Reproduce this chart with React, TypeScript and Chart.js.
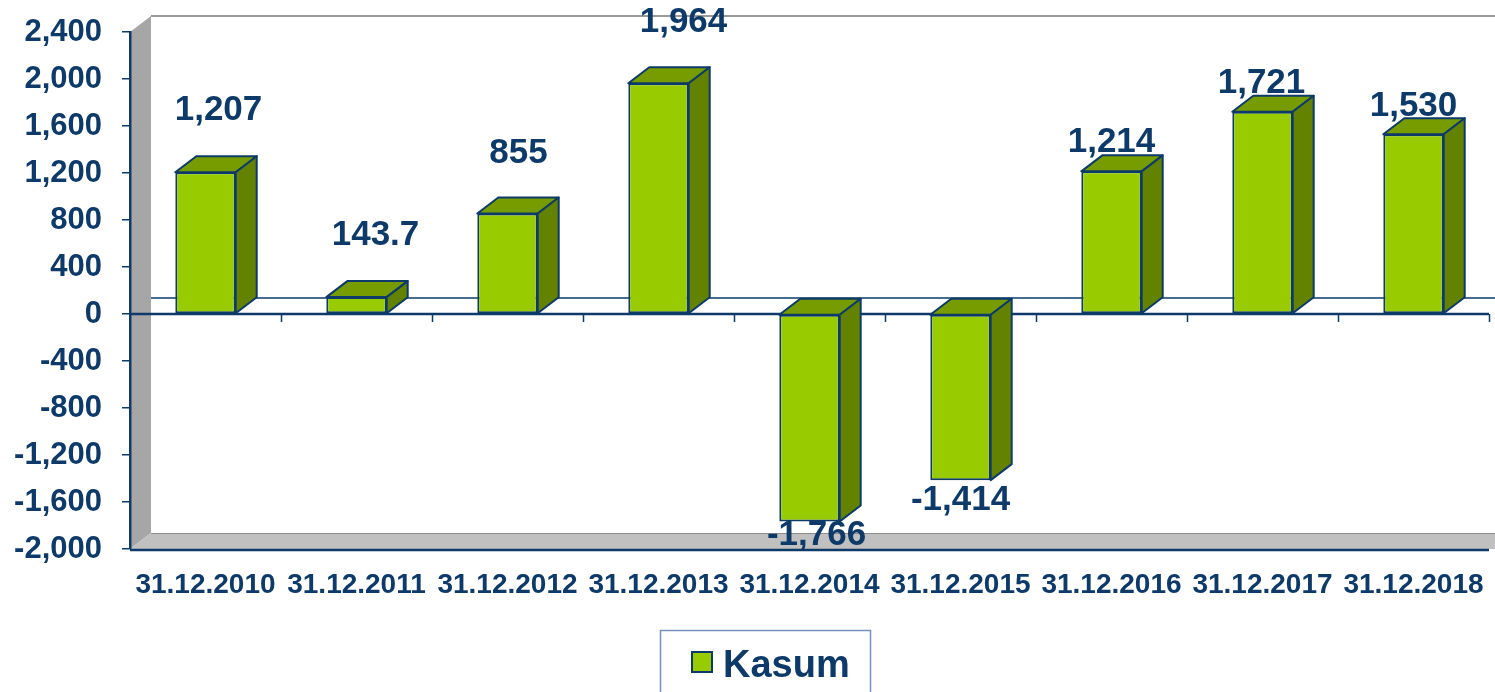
import React, { useEffect, useRef } from 'react';
import { Chart, registerables } from 'chart.js';

Chart.register(...registerables);

// ---- data ----
const categories = [
  '31.12.2010', '31.12.2011', '31.12.2012', '31.12.2013', '31.12.2014',
  '31.12.2015', '31.12.2016', '31.12.2017', '31.12.2018',
];
const kasum = [1207, 143.7, 855, 1964, -1766, -1414, 1214, 1721, 1530];
const valueLabels = ['1,207', '143.7', '855', '1,964', '-1,766', '-1,414', '1,214', '1,721', '1,530'];
const seriesName = 'Kasum';
const yMin = -2000;
const yMax = 2400;
const yStep = 400;

// ---- style ----
const NAVY = '#0D3A68';
const GREEN_FRONT = '#99CC00';
const GREEN_TOP = '#779C00';
const GREEN_SIDE = '#638200';
const FONT = '"Liberation Sans", Arial, sans-serif';
const DX = 21;
const DY = 16;
const labelDx = [13, 19, 11, 25, 7, 0, 0, -1, 0];
const labelDy = [-62, -62, -60, -61, 14, 20, -29, -28, -28];

const threeD = {
  id: 'threeD',
  beforeDraw(chart: any) {
    const { ctx, chartArea } = chart;
    const { left, right, top, bottom } = chartArea;
    ctx.save();
    // back wall
    ctx.fillStyle = '#FFFFFF';
    ctx.fillRect(left + DX, top - DY, right - left + 40, bottom - top);
    // left wall
    ctx.fillStyle = '#A6A6A6';
    ctx.beginPath();
    ctx.moveTo(left, top);
    ctx.lineTo(left + DX, top - DY);
    ctx.lineTo(left + DX, bottom - DY);
    ctx.lineTo(left, bottom);
    ctx.closePath();
    ctx.fill();
    // floor
    ctx.fillStyle = '#C0C0C0';
    ctx.beginPath();
    ctx.moveTo(left, bottom);
    ctx.lineTo(left + DX, bottom - DY);
    ctx.lineTo(right + DX + 40, bottom - DY);
    ctx.lineTo(right + 40, bottom);
    ctx.closePath();
    ctx.fill();
    ctx.strokeStyle = '#8C8C8C';
    ctx.lineWidth = 1;
    ctx.beginPath();
    ctx.moveTo(left + DX, bottom - DY + 0.5);
    ctx.lineTo(right + DX + 40, bottom - DY + 0.5);
    ctx.stroke();
    // back wall top edge
    ctx.strokeStyle = '#9A9A9A';
    ctx.lineWidth = 2;
    ctx.beginPath();
    ctx.moveTo(left + DX, top - DY);
    ctx.lineTo(right + DX + 40, top - DY);
    ctx.stroke();
    ctx.restore();
  },
  beforeDatasetsDraw(chart: any) {
    const { ctx, chartArea, scales } = chart;
    const { left, right, bottom } = chartArea;
    const y0 = scales.y.getPixelForValue(0);
    ctx.save();
    ctx.strokeStyle = NAVY;
    // back zero line
    ctx.lineWidth = 1.5;
    ctx.beginPath();
    ctx.moveTo(left + DX, y0 - DY);
    ctx.lineTo(right + DX + 40, y0 - DY);
    ctx.stroke();
    // front zero line
    ctx.lineWidth = 2.5;
    ctx.beginPath();
    ctx.moveTo(left, y0);
    ctx.lineTo(right, y0);
    ctx.stroke();
    // bottom front edge
    ctx.beginPath();
    ctx.moveTo(left, bottom + 1);
    ctx.lineTo(right, bottom + 1);
    ctx.stroke();
    // category tick marks on zero line
    ctx.lineWidth = 1.5;
    const xs = scales.x;
    for (let i = 0; i < categories.length; i++) {
      const a = xs.getPixelForValue(i);
      const step = i + 1 < categories.length ? xs.getPixelForValue(i + 1) - a : a - xs.getPixelForValue(i - 1);
      const tx = Math.round(a + step / 2) + 0.5;
      ctx.beginPath();
      ctx.moveTo(tx, y0);
      ctx.lineTo(tx, y0 + 8);
      ctx.stroke();
    }
    ctx.restore();
  },
  afterDatasetsDraw(chart: any) {
    const { ctx } = chart;
    const meta = chart.getDatasetMeta(0);
    ctx.save();
    ctx.strokeStyle = NAVY;
    ctx.lineWidth = 2;
    ctx.lineJoin = 'round';
    meta.data.forEach((bar: any) => {
      const { x, y, base, width } = bar.getProps(['x', 'y', 'base', 'width'], true);
      const x1 = x - width / 2;
      const x2 = x + width / 2;
      const yTop = Math.min(y, base);
      const yBot = Math.max(y, base);
      // top face
      ctx.fillStyle = GREEN_TOP;
      ctx.beginPath();
      ctx.moveTo(x1, yTop);
      ctx.lineTo(x1 + DX, yTop - DY);
      ctx.lineTo(x2 + DX, yTop - DY);
      ctx.lineTo(x2, yTop);
      ctx.closePath();
      ctx.fill();
      ctx.stroke();
      // side face
      ctx.fillStyle = GREEN_SIDE;
      ctx.beginPath();
      ctx.moveTo(x2, yTop);
      ctx.lineTo(x2 + DX, yTop - DY);
      ctx.lineTo(x2 + DX, yBot - DY);
      ctx.lineTo(x2, yBot);
      ctx.closePath();
      ctx.fill();
      ctx.stroke();
    });
    // value labels
    ctx.fillStyle = NAVY;
    ctx.font = `bold 35px ${FONT}`;
    ctx.textAlign = 'center';
    ctx.textBaseline = 'middle';
    meta.data.forEach((bar: any, i: number) => {
      const { x, y, base } = bar.getProps(['x', 'y', 'base'], true);
      const ref = kasum[i] >= 0 ? Math.min(y, base) : Math.max(y, base);
      ctx.fillText(valueLabels[i], x + labelDx[i], ref + labelDy[i]);
    });
    ctx.restore();
  },
  afterDraw(chart: any) {
    const { ctx } = chart;
    ctx.save();
    // legend frame
    ctx.strokeStyle = '#7391BA';
    ctx.lineWidth = 1.5;
    ctx.strokeRect(660.5, 630.5, 210, 90);
    // legend box
    ctx.fillStyle = GREEN_FRONT;
    ctx.fillRect(692, 652, 20, 20);
    ctx.strokeStyle = NAVY;
    ctx.lineWidth = 2;
    ctx.strokeRect(692, 652, 20, 20);
    ctx.fillStyle = NAVY;
    ctx.font = `bold 38px ${FONT}`;
    ctx.textAlign = 'left';
    ctx.textBaseline = 'alphabetic';
    ctx.fillText(seriesName, 723, 677);
    ctx.restore();
  },
};

export default function App() {
  const ref = useRef<HTMLCanvasElement | null>(null);
  useEffect(() => {
    if (!ref.current) return;
    const chart = new Chart(ref.current, {
      type: 'bar',
      data: {
        labels: categories,
        datasets: [
          {
            label: seriesName,
            data: kasum,
            backgroundColor: GREEN_FRONT,
            borderColor: NAVY,
            borderWidth: 2,
            borderSkipped: false,
            barPercentage: 0.4,
            categoryPercentage: 1,
          },
        ],
      },
      options: {
        responsive: false,
        animation: false,
        devicePixelRatio: 1,
        layout: { padding: { left: 0, right: 6, top: 32, bottom: 0 } },
        plugins: { legend: { display: false }, tooltip: { enabled: false } },
        scales: {
          x: {
            grid: { display: false, drawTicks: false },
            border: { display: false },
            ticks: {
              color: NAVY,
              padding: 19,
              maxRotation: 0,
              autoSkip: false,
              font: { family: FONT, size: 28, weight: 'bold' },
            },
            afterFit: (s: any) => {
              s.height = 143;
              s.paddingLeft = 0;
              s.paddingRight = 0;
            },
          },
          y: {
            min: yMin,
            max: yMax,
            grid: {
              display: true,
              drawOnChartArea: false,
              drawTicks: true,
              tickLength: 8,
              color: NAVY,
              lineWidth: 1.5,
            },
            border: { display: true, color: NAVY, width: 2.5 },
            ticks: {
              stepSize: yStep,
              color: NAVY,
              padding: 20,
              font: { family: FONT, size: 31, weight: 'bold' },
              callback: (v: any) => Number(v).toLocaleString('en-US'),
            },
            afterFit: (s: any) => {
              s.width = 130;
              s.paddingTop = 0;
              s.paddingBottom = 0;
            },
          },
        },
      },
      plugins: [threeD],
    });
    return () => chart.destroy();
  }, []);
  return (
    <div style={{ position: 'fixed', left: 0, top: 0, width: 1495, height: 692, background: '#fff' }}>
      <canvas ref={ref} width={1495} height={692} style={{ display: 'block', width: 1495, height: 692 }} />
    </div>
  );
}
